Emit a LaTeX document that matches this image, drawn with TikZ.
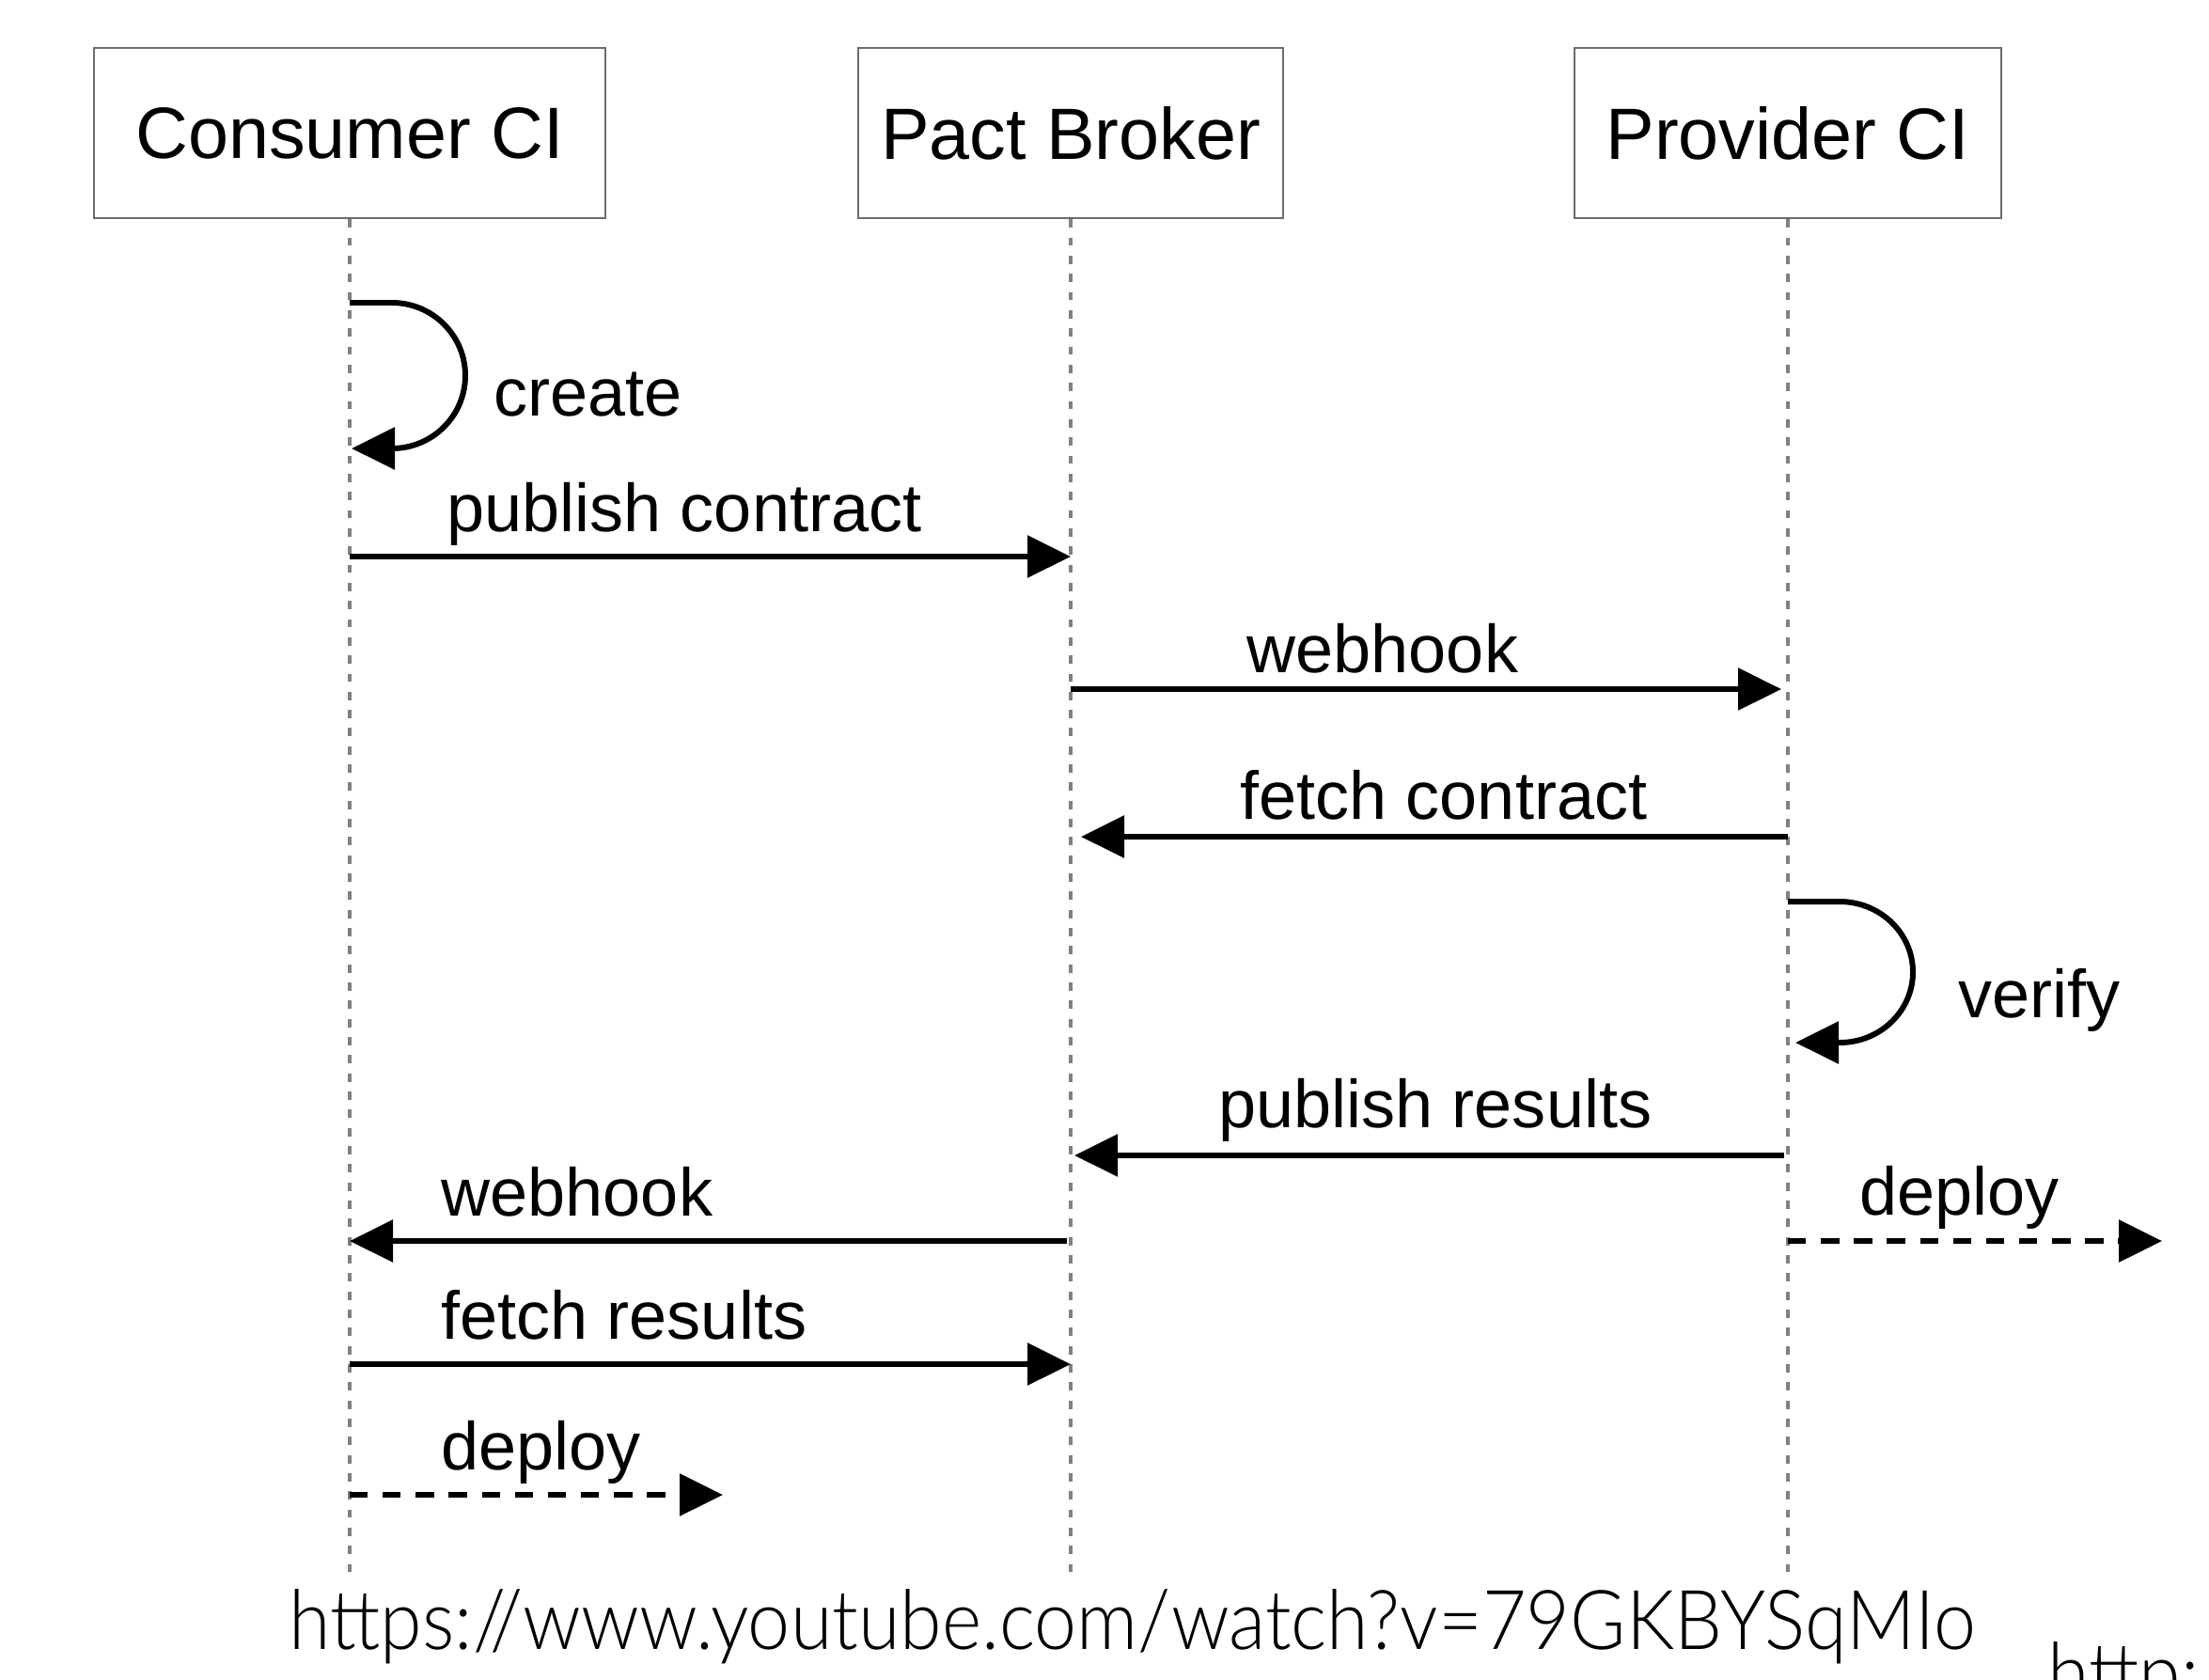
\documentclass[tikz,border=0pt]{standalone}
\usepackage{fontspec}
\setmainfont{Liberation Sans}
\newfontfamily\urlfont{Lato Light}[FakeStretch=0.92]
\usetikzlibrary{arrows.meta}

\begin{document}
\begin{tikzpicture}[
        actor/.style={draw=gray!85!black, line width=0.7pt, minimum width=#1, minimum height=1.81cm, font=\fontsize{22}{26}\selectfont},
        life/.style={gray, line width=0.9pt, dash pattern=on 2.5pt off 3pt},
        msg/.style={line width=1.7pt, -{Triangle[length=4.6mm,width=4.4mm]}},
        dmsg/.style={msg, dash pattern=on 5.5pt off 4.5pt},
        lbl/.style={anchor=base west, inner sep=0pt, font=\fontsize{20.5}{24}\selectfont}]
        \useasboundingbox (0,0) rectangle (23.5,-17.86);

        \node[actor=5.44cm] (cons) at (3.72,-1.415) {Consumer CI};
        \node[actor=4.52cm] (brok) at (11.39,-1.415) {Pact Broker};
        \node[actor=4.54cm] (prov) at (19.02,-1.415) {Provider CI};

        \foreach \a in {cons,brok,prov}
            \draw[life] (\a.south) -- (\a.south |- 0,-16.76);

        \coordinate (cr1) at (3.72,-3.22);
        \coordinate (cr2) at (3.74,-4.77);
        \coordinate (pc1) at (3.72,-5.92);
        \coordinate (pc2) at (11.39,-5.92);
        \coordinate (wh1) at (11.39,-7.33);
        \coordinate (wh2) at (18.95,-7.33);
        \coordinate (fc1) at (19.02,-8.90);
        \coordinate (fc2) at (11.50,-8.90);
        \coordinate (vf1) at (19.02,-9.59);
        \coordinate (vf2) at (19.10,-11.09);
        \coordinate (pr1) at (18.98,-12.29);
        \coordinate (pr2) at (11.43,-12.29);
        \coordinate (wc1) at (11.35,-13.20);
        \coordinate (wc2) at (3.72,-13.20);
        \coordinate (dp1) at (19.02,-13.20);
        \coordinate (dp2) at (23.00,-13.20);
        \coordinate (fr1) at (3.72,-14.51);
        \coordinate (fr2) at (11.39,-14.51);
        \coordinate (dc1) at (3.72,-15.90);
        \coordinate (dc2) at (7.69,-15.90);

        \draw[msg] (cr1) -- ++(0.45,0) arc[start angle=90, end angle=-90, x radius=0.78, y radius=0.775] -- (cr2);
        \draw[msg] (pc1) -- (pc2);
        \draw[msg] (wh1) -- (wh2);
        \draw[msg] (fc1) -- (fc2);
        \draw[msg] (vf1) -- ++(0.55,0) arc[start angle=90, end angle=-90, x radius=0.78, y radius=0.75] -- (vf2);
        \draw[msg] (pr1) -- (pr2);
        \draw[msg] (wc1) -- (wc2);
        \draw[dmsg] (dp1) -- (dp2);
        \draw[msg] (fr1) -- (fr2);
        \draw[dmsg] (dc1) -- (dc2);

        \node[lbl] (tcr) at (5.25,-4.42) {create};
        \node[lbl] (tpc) at (4.75,-5.65) {publish contract};
        \node[lbl] (twh) at (13.26,-7.15) {webhook};
        \node[lbl] (tfc) at (13.19,-8.71) {fetch contract};
        \node[lbl] (tvf) at (20.83,-10.82) {verify};
        \node[lbl] (tpr) at (12.96,-11.99) {publish results};
        \node[lbl] (twc) at (4.69,-12.93) {webhook};
        \node[lbl] (tdp) at (19.78,-12.92) {deploy};
        \node[lbl] (tfr) at (4.69,-14.24) {fetch results};
        \node[lbl] (tdc) at (4.69,-15.63) {deploy};

        \node[anchor=base west, inner sep=0pt, font=\urlfont\fontsize{25}{30}\selectfont] (url) at (3.07,-17.54) {https://www.youtube.com/watch?v=79GKBYSqMIo};
        \node[anchor=base west, inner sep=0pt, font=\urlfont\fontsize{25}{30}\selectfont] (url2) at (21.78,-18.10) {http:/};
    \end{tikzpicture}
\end{document}
